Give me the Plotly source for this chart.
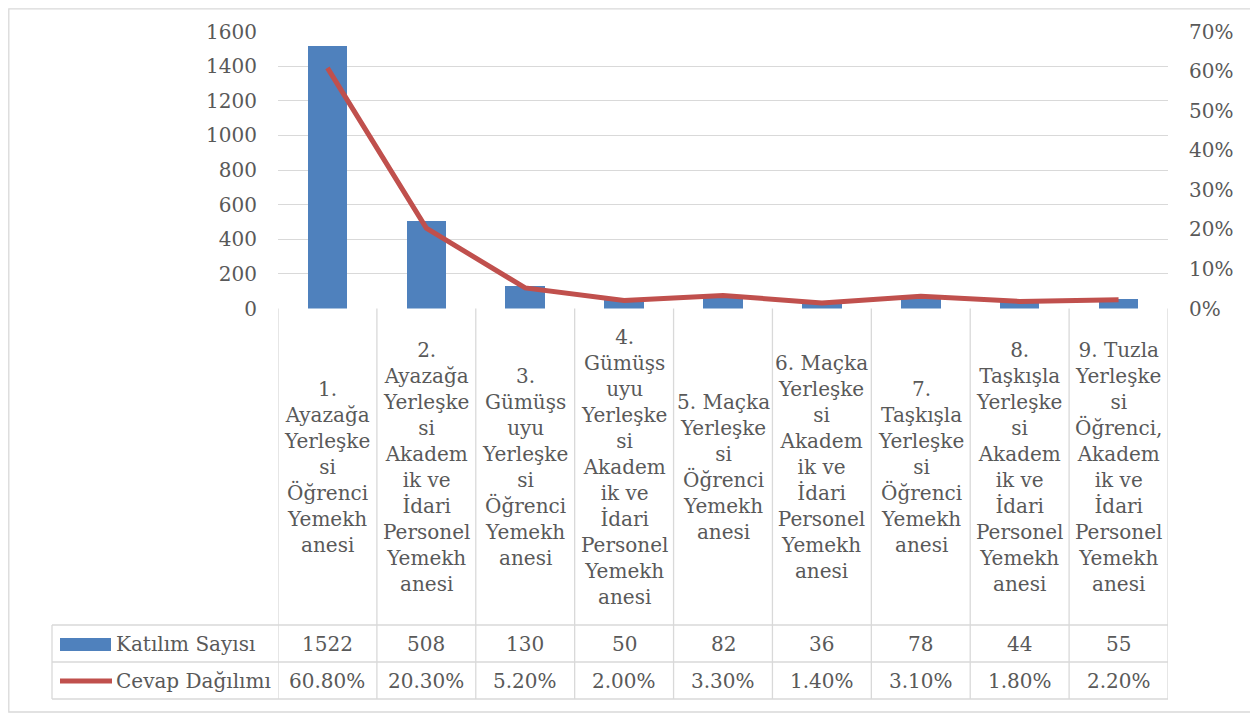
import plotly.graph_objects as go

# ---------------- data ----------------
categories = [
    "1.<br>Ayazağa<br>Yerleşke<br>si<br>Öğrenci<br>Yemekh<br>anesi",
    "2.<br>Ayazağa<br>Yerleşke<br>si<br>Akadem<br>ik ve<br>İdari<br>Personel<br>Yemekh<br>anesi",
    "3.<br>Gümüşs<br>uyu<br>Yerleşke<br>si<br>Öğrenci<br>Yemekh<br>anesi",
    "4.<br>Gümüşs<br>uyu<br>Yerleşke<br>si<br>Akadem<br>ik ve<br>İdari<br>Personel<br>Yemekh<br>anesi",
    "5. Maçka<br>Yerleşke<br>si<br>Öğrenci<br>Yemekh<br>anesi",
    "6. Maçka<br>Yerleşke<br>si<br>Akadem<br>ik ve<br>İdari<br>Personel<br>Yemekh<br>anesi",
    "7.<br>Taşkışla<br>Yerleşke<br>si<br>Öğrenci<br>Yemekh<br>anesi",
    "8.<br>Taşkışla<br>Yerleşke<br>si<br>Akadem<br>ik ve<br>İdari<br>Personel<br>Yemekh<br>anesi",
    "9. Tuzla<br>Yerleşke<br>si<br>Öğrenci,<br>Akadem<br>ik ve<br>İdari<br>Personel<br>Yemekh<br>anesi",
]
katilim_sayisi = [1522, 508, 130, 50, 82, 36, 78, 44, 55]
cevap_dagilimi = [0.608, 0.203, 0.052, 0.020, 0.033, 0.014, 0.031, 0.018, 0.022]
series_names = ["Katılım Sayısı", "Cevap Dağılımı"]
left_ticks = [0, 200, 400, 600, 800, 1000, 1200, 1400, 1600]
right_ticks = [0, 0.1, 0.2, 0.3, 0.4, 0.5, 0.6, 0.7]

# ---------------- layout helpers ----------------
OX, OY = 8, 8          # page (body) margin offset
W, H = 1258 - OX, 714 - OY
FONT = "DejaVu Serif"
TXT = "#595959"
GRID = "#d9d9d9"
BLUE = "#4F81BD"
RED = "#C0504D"


def px(x):
    return (x - OX) / W


def py(y):
    return 1 - (y - OY) / H


PLOT_L, PLOT_R, PLOT_T, PLOT_B = 278, 1168, 31.5, 308.5
ROW1_T, ROW2_T, ROW2_B = 625, 662, 699
LEG_L = 52

n = len(categories)
xs = list(range(n))

fig = go.Figure()
fig.add_trace(go.Bar(x=xs, y=katilim_sayisi, name=series_names[0],
                     marker=dict(color=BLUE, line=dict(width=0)), width=0.4,
                     showlegend=False, yaxis="y"))
fig.add_trace(go.Scatter(x=xs, y=cevap_dagilimi, name=series_names[1], mode="lines",
                         line=dict(color=RED, width=5), showlegend=False, yaxis="y2"))

shapes = []
# outer chart border (as close to the page edge as the page margin allows)
shapes.append(dict(type="rect", xref="paper", yref="paper", x0=px(8.8), x1=px(1255),
                   y0=py(712), y1=py(8.8), line=dict(color=GRID, width=1.3)))
# vertical column boundaries (from axis down to table bottom)
for i in range(n + 1):
    shapes.append(dict(type="line", xref="x", yref="paper", x0=i - 0.5, x1=i - 0.5,
                       y0=py(ROW2_B), y1=py(PLOT_B), line=dict(color=GRID, width=1.3)))
# legend column left border
shapes.append(dict(type="line", xref="paper", yref="paper", x0=px(LEG_L), x1=px(LEG_L),
                   y0=py(ROW2_B), y1=py(ROW1_T), line=dict(color=GRID, width=1.3)))
# horizontal table lines
for yy in (ROW1_T, ROW2_T, ROW2_B):
    shapes.append(dict(type="line", xref="paper", yref="paper", x0=px(LEG_L), x1=px(PLOT_R),
                       y0=py(yy), y1=py(yy), line=dict(color=GRID, width=1.3)))
# legend keys
shapes.append(dict(type="rect", xref="paper", yref="paper", x0=px(60), x1=px(111),
                   y0=py(651), y1=py(638), fillcolor=BLUE, line=dict(width=0)))
shapes.append(dict(type="line", xref="paper", yref="paper", x0=px(60), x1=px(112),
                   y0=py(681), y1=py(681), line=dict(color=RED, width=5)))

annotations = []
# category header cells
for i, c in enumerate(categories):
    annotations.append(dict(x=i, xref="x", y=py((PLOT_B + ROW1_T) / 2), yref="paper",
                            text=c, showarrow=False, xanchor="center", yanchor="middle",
                            align="center", font=dict(family=FONT, size=20, color=TXT)))
# value rows
for i in range(n):
    annotations.append(dict(x=i, xref="x", y=py((ROW1_T + ROW2_T) / 2), yref="paper",
                            text=f"{katilim_sayisi[i]}", showarrow=False,
                            xanchor="center", yanchor="middle",
                            font=dict(family=FONT, size=20, color=TXT)))
    annotations.append(dict(x=i, xref="x", y=py((ROW2_T + ROW2_B) / 2), yref="paper",
                            text=f"{cevap_dagilimi[i] * 100:.2f}%", showarrow=False,
                            xanchor="center", yanchor="middle",
                            font=dict(family=FONT, size=20, color=TXT)))
# legend labels
annotations.append(dict(x=px(114), xref="paper", y=py((ROW1_T + ROW2_T) / 2), yref="paper",
                        text=series_names[0], showarrow=False, xanchor="left",
                        yanchor="middle", font=dict(family=FONT, size=20, color=TXT)))
annotations.append(dict(x=px(114), xref="paper", y=py((ROW2_T + ROW2_B) / 2), yref="paper",
                        text=series_names[1], showarrow=False, xanchor="left",
                        yanchor="middle", font=dict(family=FONT, size=20, color=TXT)))

fig.update_layout(
    width=W, height=H,
    margin=dict(l=0, r=0, t=0, b=0, autoexpand=False),
    paper_bgcolor="white", plot_bgcolor="white",
    font=dict(family=FONT, size=20, color=TXT),
    bargap=0,
    xaxis=dict(domain=[px(PLOT_L), px(PLOT_R)], range=[-0.5, n - 0.5],
               showticklabels=False, showgrid=False, zeroline=False, showline=False,
               automargin=False, fixedrange=True),
    yaxis=dict(domain=[py(PLOT_B), py(PLOT_T)], range=[0, 1600],
               tickvals=left_ticks, showgrid=True, gridcolor=GRID, gridwidth=1.3,
               zeroline=False, showline=False, ticks="", ticklabelstandoff=20,
               automargin=False, tickfont=dict(family=FONT, size=20, color=TXT)),
    yaxis2=dict(domain=[py(PLOT_B), py(PLOT_T)], range=[0, 0.7], overlaying="y",
                side="right", anchor="x", tickvals=right_ticks, tickformat=".0%",
                showgrid=False, zeroline=False, showline=False, ticks="",
                ticklabelstandoff=20, automargin=False,
                tickfont=dict(family=FONT, size=20, color=TXT)),
    shapes=shapes,
    annotations=annotations,
)

fig.write_html("out.html")
